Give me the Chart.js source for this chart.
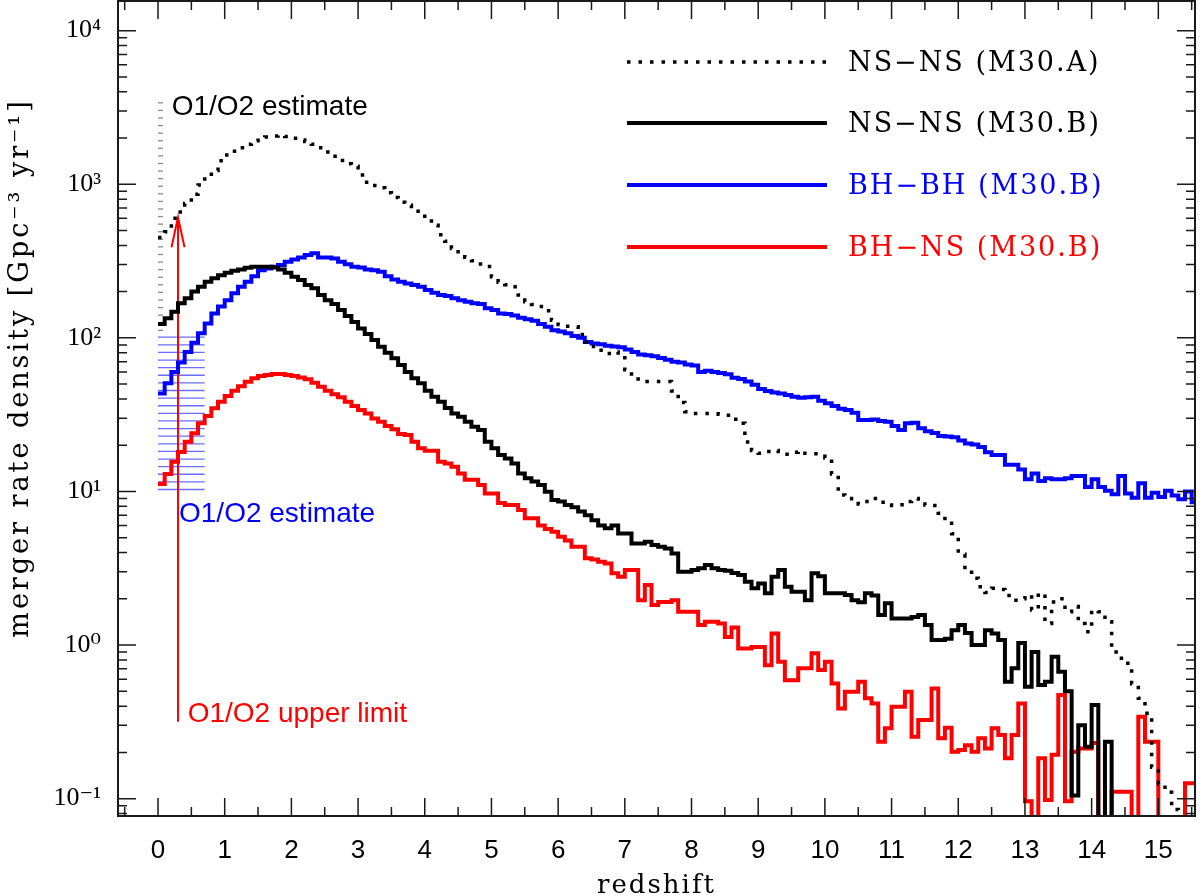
<!DOCTYPE html>
<html>
<head>
<meta charset="utf-8">
<script src="https://cdn.jsdelivr.net/npm/chart.js@4.4.1/dist/chart.umd.min.js"></script>
<style>
    html, body { margin: 0; padding: 0; background: #fff; }
    #wrap { width: 1200px; height: 896px; }
</style>
</head>
<body>
<div id="wrap"><canvas id="myChart" width="1200" height="896"></canvas></div>
<script>
// data ===============================================================
// merger rate density per redshift bin (bin width 0.1, first bin starts at z = 0)
const binWidth = 0.1;

const nsnsA = [
    450, 490, 600, 660, 750, 860, 990, 1120, 1230, 1420,
    1550, 1640, 1730, 1820, 1920, 1990, 2030, 2060, 2090, 2050,
    1990, 1940, 1900, 1820, 1730, 1620, 1520, 1430, 1360, 1310,
    1150, 1030, 980, 950, 880, 820, 765, 730, 690, 640,
    600, 540, 470, 425, 382, 350, 335, 318, 303, 292,
    250, 230, 222, 215, 190, 172, 165, 160, 150, 130,
    122, 119, 118, 105, 94, 88, 83, 79, 81, 77,
    62, 54, 52, 52, 52, 52, 52, 45, 38, 33,
    32.2, 32.2, 32.2, 32, 31.8, 31.4, 29.5, 27.8, 21, 18.5,
    17.7, 18.2, 18.5, 18.2, 17.5, 18, 18.3, 17.7, 17.6, 17.5,
    16.5, 13, 9.5, 9.0, 8.7, 8.3, 8.6, 9.0, 8.5, 8.15,
    8.1, 8.2, 8.6, 9.0, 8.3, 8.15, 8.1, 7.2, 6.4, 5.3,
    3.9, 3.1, 2.72, 2.4, 2.2, 2.34, 2.3, 2.1, 1.96, 2.0,
    2.12, 1.69, 2.17, 1.38, 1.91, 2.0, 1.65, 1.78, 1.38, 1.22,
    1.69, 1.65, 1.42, 0.9, 0.82, 0.76, 0.56, 0.45, 0.36, 0.16,
    0.125, 0.11, 0.085, 0.05, 0.05, 0.05
];

const nsnsB = [
    123, 134, 148, 168, 181, 200, 215, 232, 244, 256,
    265, 273, 279, 286, 290, 290, 290, 287, 279, 265,
    250, 238, 221, 210, 190, 176, 166, 152, 139, 127,
    115, 106, 97, 87.5, 80, 73.6, 66.5, 60, 54.5, 50.6,
    45.3, 41.4, 38.4, 35, 32.2, 30.6, 28.4, 26.4, 25.1, 21.1,
    19.1, 17.3, 16.4, 15.2, 13.1, 12.2, 11.6, 11, 9.96, 8.8,
    8.6, 8.15, 7.9, 7.4, 7.0, 6.5, 6.0, 5.75, 6.0, 5.33,
    5.33, 4.59, 4.59, 4.7, 4.48, 4.37, 4.26, 3.95, 3.0, 3.0,
    3.08, 3.16, 3.32, 3.16, 3.08, 3.05, 2.95, 2.86, 2.58, 2.34,
    2.52, 2.17, 2.78, 3.08, 2.40, 2.22, 2.22, 1.96, 2.93, 2.80,
    2.17, 2.17, 2.17, 2.12, 1.96, 1.9, 2.17, 2.1, 1.57, 1.87,
    1.49, 1.49, 1.49, 1.52, 1.57, 1.35, 1.08, 1.08, 1.1, 1.25,
    1.35, 1.2, 1.0, 1.0, 1.25, 1.19, 1.08, 0.577, 0.705, 1.03,
    0.535, 0.9, 0.55, 0.577, 0.84, 0.67, 0.5, 0.105, 0.30, 0.218,
    0.407, 0.05, 0.235, 0.05, 0.05, 0.05, 0.05, 0.05, 0.05, 0.05,
    0.05, 0.05, 0.05, 0.05, 0.05, 0.05
];

const bhbh = [
    43.5, 50.6, 60, 69, 81, 93, 107, 124, 144, 160,
    176, 195, 215, 232, 252, 276, 283, 290, 298, 313,
    324, 334, 346, 355, 334, 334, 329, 313, 302, 290,
    287, 279, 276, 269, 252, 240, 232, 226, 221, 215,
    205, 197, 190, 187, 181, 176, 172, 168, 166, 156,
    152, 144, 143, 140, 135, 132, 129, 123, 118, 112,
    110, 107, 103, 100, 94, 92, 91, 89, 88, 87,
    84, 81, 78, 77, 76, 74, 72, 70, 69, 67,
    66, 60, 61, 60, 59, 58, 55, 54, 52, 49.5,
    46.5, 45, 44, 43.5, 42.4, 41.4, 40.7, 41, 41.4, 39,
    37.5, 36, 34.5, 33.9, 32.5, 29.2, 29.2, 29.4, 28.8, 28.4,
    26.7, 25.1, 27.8, 28, 25.8, 24.7, 24, 23, 22.8, 22.5,
    21.5, 20.5, 20.2, 19.5, 18, 17.3, 17.3, 14.9, 14.9, 13.9,
    12.0, 13.1, 11.7, 12.2, 12, 12, 12.2, 12.6, 12.6, 10.7,
    12, 10.7, 10.1, 9.6, 12.6, 9.7, 9.1, 11.3, 9.1, 9.8,
    9.2, 10.1, 9.4, 8.9, 10, 8.5
];

const bhns = [
    11.2, 13.0, 15.6, 18.1, 21.1, 23.9, 27.8, 31, 34.8, 38.4,
    41.8, 45.3, 48.5, 51.8, 54.5, 56.4, 57.3, 58.1, 58.1, 57.3,
    56.4, 55.3, 53.7, 51, 48.1, 45.3, 43, 41, 38.4, 36,
    33.9, 32.2, 29.9, 28.4, 26.7, 25.4, 23.7, 23.3, 21.1, 19.1,
    18.4, 18.4, 15.6, 15.2, 14.5, 13.1, 11.9, 11.9, 11.0, 9.7,
    9.7, 8.4, 8.15, 8.15, 7.57, 6.68, 6.68, 6.0, 5.7, 5.47,
    5.07, 4.8, 4.37, 4.37, 3.67, 3.6, 3.48, 3.4, 2.93, 2.78,
    3.08, 3.08, 1.96, 2.46, 1.82, 1.91, 1.91, 1.96, 1.65, 1.65,
    1.65, 1.35, 1.42, 1.42, 1.38, 1.13, 1.3, 0.95, 0.95, 0.97,
    0.97, 0.74, 1.19, 0.78, 0.59, 0.59, 0.705, 0.705, 0.883, 0.687,
    0.78, 0.563, 0.387, 0.497, 0.497, 0.577, 0.45, 0.417, 0.235, 0.287,
    0.397, 0.397, 0.497, 0.253, 0.325, 0.325, 0.522, 0.247, 0.29, 0.202,
    0.207, 0.223, 0.202, 0.247, 0.212, 0.287, 0.26, 0.183, 0.26, 0.417,
    0.096, 0.05, 0.183, 0.098, 0.193, 0.473, 0.096, 0.202, 0.212, 0.212,
    0.23, 0.05, 0.05, 0.111, 0.111, 0.111, 0.05, 0.341, 0.235, 0.235,
    0.05, 0.05, 0.05, 0.05, 0.126, 0.126
];

const seriesLabels = ['NS\u2212NS (M30.A)', 'NS\u2212NS (M30.B)', 'BH\u2212BH (M30.B)', 'BH\u2212NS (M30.B)'];
const seriesColors = ['#000000', '#000000', '#0000ff', '#ff0000'];
const labelColors = ['#000000', '#000000', '#0000ff', '#ff0000'];

const xMin = -0.6, xMax = 15.55;
const yMin = 0.0771, yMax = 15600;
const xTickStep = 0.5;
const yDecades = [-2, -1, 0, 1, 2, 3, 4];

// O1/O2 (LIGO/Virgo) rates drawn on the left
const nsnsEstimate = [112, 3390];     // grey hatch, NS-NS
const bhbhEstimate = [10.3, 101];     // blue hatch, BH-BH
const bhnsUpper = [0.317, 610];       // red arrow, BH-NS upper limit
const nsnsHatchZ = [0, 0.075];
const bhbhHatchZ = [0, 0.7];
const bhnsArrowZ = 0.3;

const xTitle = 'redshift';
const yTitle = 'merger rate density [Gpc\u207B\u00B3 yr\u207B\u00B9]';

// helpers ===============================================================
function toSteps(vals) {
    let pts = vals.map((v, i) => ({ x: i * binWidth, y: v }));
    pts.push({ x: vals.length * binWidth, y: vals[vals.length - 1] });
    return pts;
}

const supChars = { '-': '\u207B', '0': '\u2070', '1': '\u00B9', '2': '\u00B2', '3': '\u00B3', '4': '\u2074' };
function isDecade(v) {
    let l = Math.log10(v);
    return Math.abs(l - Math.round(l)) < 1e-6;
}
function decadeLabel(v) {
    if (!isDecade(v)) return '';
    let e = String(Math.round(Math.log10(v)));
    return '10' + e.split('').map(c => supChars[c]).join('');
}

let xTickValues = [];
for (let t = Math.ceil(xMin / xTickStep) * xTickStep; t <= xMax; t += xTickStep) {
    xTickValues.push(Math.round(t * 10) / 10);
}
let yTickValues = [];
yDecades.forEach(e => {
    for (let m = 1; m <= 9; m++) {
        let v = m * Math.pow(10, e);
        if (v >= yMin && v <= yMax) yTickValues.push(v);
    }
});

// plugins ===============================================================
function hatch(ctx, xs, ys, zr, vr, color) {
    const x0 = xs.getPixelForValue(zr[0]), x1 = xs.getPixelForValue(zr[1]);
    const p0 = ys.getPixelForValue(vr[0]), p1 = ys.getPixelForValue(vr[1]);
    const n = Math.round(Math.abs(p0 - p1) / 7.6) + 1;
    ctx.strokeStyle = color;
    ctx.lineWidth = 1.3;
    for (let k = 0; k < n; k++) {
        const py = p0 + (p1 - p0) * k / (n - 1);
        ctx.beginPath();
        ctx.moveTo(x0, py);
        ctx.lineTo(x1, py);
        ctx.stroke();
    }
}

const estimates = {
    id: 'estimates',
    beforeDatasetsDraw(chart) {
        const { ctx, scales: { x, y } } = chart;
        ctx.save();
        hatch(ctx, x, y, nsnsHatchZ, nsnsEstimate, '#8a8a8a');
        hatch(ctx, x, y, bhbhHatchZ, bhbhEstimate, 'rgba(70, 70, 255, 0.8)');
        // red arrow
        const ax = x.getPixelForValue(bhnsArrowZ);
        const yb = y.getPixelForValue(bhnsUpper[0]);
        const yt = y.getPixelForValue(bhnsUpper[1]);
        ctx.strokeStyle = '#ff0000';
        ctx.lineWidth = 2;
        ctx.beginPath();
        ctx.moveTo(ax, yb);
        ctx.lineTo(ax, yt);
        ctx.stroke();
        ctx.beginPath();
        ctx.moveTo(ax - 6.5, yt + 30);
        ctx.lineTo(ax, yt);
        ctx.lineTo(ax + 6.5, yt + 30);
        ctx.stroke();
        ctx.restore();
    },
    afterDatasetsDraw(chart) {
        const { ctx, scales: { x, y } } = chart;
        ctx.save();
        ctx.font = '28px "Liberation Sans", Arial, sans-serif';
        ctx.textAlign = 'left';
        ctx.textBaseline = 'alphabetic';
        ctx.fillStyle = '#000000';
        ctx.fillText('O1/O2 estimate', x.getPixelForValue(0.205), y.getPixelForValue(2820));
        ctx.fillStyle = '#0000ff';
        ctx.fillText('O1/O2 estimate', x.getPixelForValue(0.315), y.getPixelForValue(6.3));
        ctx.fillStyle = '#ff0000';
        ctx.fillText('O1/O2 upper limit', x.getPixelForValue(0.445), y.getPixelForValue(0.315));
        ctx.restore();
    }
};

const frameAndLegend = {
    id: 'frameAndLegend',
    afterDraw(chart) {
        const { ctx, chartArea: { left, right, top, bottom }, scales: { x, y } } = chart;
        ctx.save();
        // frame
        ctx.strokeStyle = '#1a1a1a';
        ctx.lineWidth = 2;
        ctx.setLineDash([]);
        ctx.strokeRect(left, top, right - left, bottom - top);
        // inward ticks on all four sides
        ctx.lineWidth = 1.5;
        x.ticks.forEach(t => {
            const px = x.getPixelForValue(t.value);
            const len = Number.isInteger(t.value) ? 18 : 9;
            ctx.beginPath();
            ctx.moveTo(px, bottom); ctx.lineTo(px, bottom - len);
            ctx.moveTo(px, top); ctx.lineTo(px, top + len);
            ctx.stroke();
        });
        y.ticks.forEach(t => {
            const py = y.getPixelForValue(t.value);
            const len = isDecade(t.value) ? 18 : 9;
            ctx.beginPath();
            ctx.moveTo(left, py); ctx.lineTo(left + len, py);
            ctx.moveTo(right, py); ctx.lineTo(right - len, py);
            ctx.stroke();
        });

        // axis titles
        ctx.fillStyle = '#000000';
        ctx.font = '26px "DejaVu Serif", serif';
        ctx.letterSpacing = '2px';
        ctx.textAlign = 'center';
        ctx.textBaseline = 'alphabetic';
        ctx.fillText(xTitle, (left + right) / 2, 893);
        ctx.save();
        ctx.translate(28, 368);
        ctx.rotate(-Math.PI / 2);
        ctx.font = '27px "DejaVu Serif", serif';
        ctx.letterSpacing = '3px';
        ctx.fillText(yTitle, 0, 0);
        ctx.restore();

        // legend
        const rows = [62, 123, 185, 247];
        ctx.font = '27px "DejaVu Serif", serif';
        ctx.letterSpacing = '2px';
        ctx.textAlign = 'left';
        ctx.textBaseline = 'middle';
        chart.data.datasets.forEach((ds, i) => {
            ctx.strokeStyle = ds.borderColor;
            ctx.lineWidth = ds.borderWidth;
            ctx.lineCap = 'butt';
            ctx.setLineDash(ds.borderDash || []);
            ctx.beginPath();
            ctx.moveTo(627, rows[i]);
            ctx.lineTo(827, rows[i]);
            ctx.stroke();
            ctx.fillStyle = labelColors[i];
            ctx.fillText(ds.label, 848, rows[i] + 2);
        });
        ctx.restore();
    }
};

function noPad(s) {
    s.paddingTop = 0;
    s.paddingBottom = 0;
    s.paddingLeft = 0;
    s.paddingRight = 0;
}

// chart ===============================================================
function plot_rates() {
    let ctx = document.getElementById('myChart');
    let series = [nsnsA, nsnsB, bhbh, bhns];
    let datasets = series.map((vals, i) => ({
        label: seriesLabels[i],
        data: toSteps(vals),
        borderColor: seriesColors[i],
        borderWidth: i === 0 ? 3.5 : 4,
        borderDash: i === 0 ? [3.5, 8] : [],
        borderCapStyle: 'butt',
        borderJoinStyle: 'miter',
        stepped: true,
        fill: false,
        pointRadius: 0,
    }));

    let options = {
        responsive: false,
        animation: false,
        layout: { padding: { top: 1, right: 5, left: 0, bottom: 0 } },
        plugins: {
            legend: { display: false },
            tooltip: { enabled: false },
        },
        scales: {
            x: {
                type: 'linear',
                min: xMin,
                max: xMax,
                afterFit: (s) => { s.height = 80; noPad(s); },
                afterBuildTicks: (s) => { s.ticks = xTickValues.map(v => ({ value: v })); },
                grid: { display: false, drawTicks: false },
                border: { display: false },
                ticks: {
                    autoSkip: false,
                    maxRotation: 0,
                    minRotation: 0,
                    padding: 19,
                    color: '#000000',
                    font: { family: '"Liberation Sans", Arial, sans-serif', size: 26 },
                    callback: (v) => Number.isInteger(v) ? String(v) : '',
                },
            },
            y: {
                type: 'logarithmic',
                min: yMin,
                max: yMax,
                afterFit: (s) => { s.width = 118; noPad(s); },
                afterBuildTicks: (s) => { s.ticks = yTickValues.map(v => ({ value: v })); },
                grid: { display: false, drawTicks: false },
                border: { display: false },
                ticks: {
                    autoSkip: false,
                    padding: 17,
                    color: '#000000',
                    font: { family: '"Liberation Serif", "DejaVu Serif", serif', size: 26 },
                    callback: (v) => decadeLabel(v),
                },
            },
        },
    };

    new Chart(ctx, {
        type: 'line',
        data: { datasets: datasets },
        options: options,
        plugins: [estimates, frameAndLegend],
    });
}

plot_rates();
</script>
</body>
</html>
